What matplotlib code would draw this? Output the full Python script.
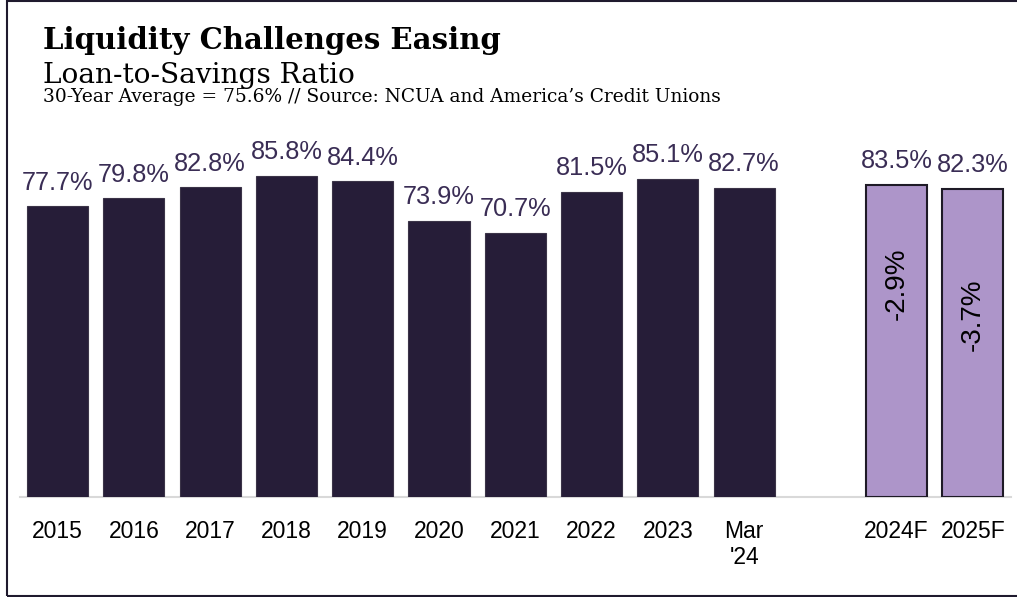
import matplotlib
matplotlib.use("Agg")
import matplotlib.pyplot as plt
import numpy as np
from matplotlib.patches import Rectangle

# Loan-to-savings ratio, actuals then forecasts
actual_labels = ["2015", "2016", "2017", "2018", "2019", "2020", "2021",
                 "2022", "2023", "Mar\n'24"]
actual_values = [77.7, 79.8, 82.8, 85.8, 84.4, 73.9, 70.7, 81.5, 85.1, 82.7]
forecast_labels = ["2024F", "2025F"]
forecast_values = [83.5, 82.3]
forecast_changes = [-2.9, -3.7]

DARK = "#261d38"
LIGHT = "#ad95c9"
LABEL_COLOR = "#3a2d55"

fig = plt.figure(figsize=(10.17, 5.97), dpi=100)
ax = fig.add_axes([0.0192, 0.1667, 0.9749, 0.6276])

# one empty slot between the actuals and the forecasts
x_actual = np.arange(len(actual_values))
x_forecast = np.arange(len(forecast_values)) + len(actual_values) + 1

ax.bar(x_actual, actual_values, width=0.8, color=DARK, edgecolor="#3b3448",
       linewidth=0.8, zorder=2)
ax.bar(x_forecast, forecast_values, width=0.8, color=LIGHT, edgecolor="#1e1a26",
       linewidth=1.5, zorder=2)

for x, v in zip(list(x_actual) + list(x_forecast), actual_values + forecast_values):
    ax.annotate(f"{v:.1f}%", (x, v), xytext=(0, 12), textcoords="offset points",
                ha="center", va="baseline", fontsize=18.3, color=LABEL_COLOR,
                family="Liberation Sans")

# change notes sit inside the forecast bars
note_y = [57.0, 48.7]
for x, c, y in zip(x_forecast, forecast_changes, note_y):
    ax.text(x, y, f"{c:.1f}%", rotation=90, ha="center", va="center",
            fontsize=20, color="black", family="Liberation Sans")

ax.set_xlim(-0.5, len(actual_values) + len(forecast_values) + 0.5)
ax.set_ylim(0, 100)
ax.set_xticks(list(x_actual) + list(x_forecast),
              labels=actual_labels + forecast_labels)
ax.tick_params(axis="x", length=0, pad=16, labelsize=16.5)
for lbl in ax.get_xticklabels():
    lbl.set_family("Liberation Sans")
    lbl.set_verticalalignment("top")
ax.set_yticks([])
for side in ["top", "right", "left"]:
    ax.spines[side].set_visible(False)
ax.spines["bottom"].set_color("#d9d9d9")
ax.spines["bottom"].set_linewidth(1.5)
ax.spines["bottom"].set_zorder(1)

fig.text(43 / 1017, 1 - 49 / 597, "Liquidity Challenges Easing",
         fontsize=21, fontweight="bold", family="DejaVu Serif", va="baseline")
fig.text(43 / 1017, 1 - 83 / 597, "Loan-to-Savings Ratio",
         fontsize=20.2, family="DejaVu Serif", va="baseline")
fig.text(43 / 1017, 1 - 102 / 597,
         "30-Year Average = 75.6% // Source: NCUA and America\u2019s Credit Unions",
         fontsize=13.4, family="DejaVu Serif", va="baseline")

# frame around the slide
fig.patches.append(Rectangle((7 / 1017, 1 / 597), 1.2, 595 / 597,
                             transform=fig.transFigure, fill=False,
                             edgecolor="#1f1a2e", linewidth=1.5))

fig.savefig("out.png", dpi=100)
